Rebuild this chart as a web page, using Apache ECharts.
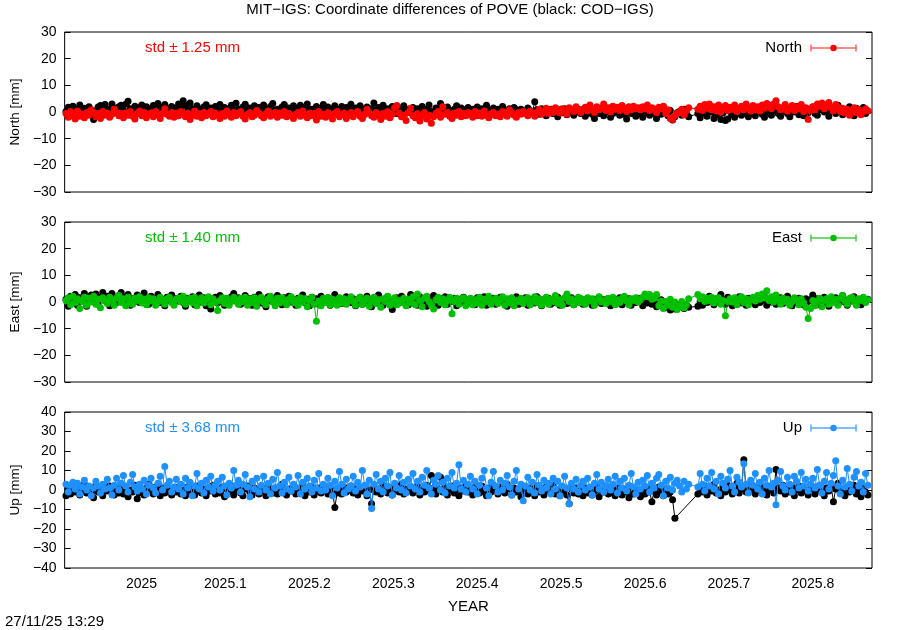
<!DOCTYPE html>
<html><head><meta charset="utf-8">
<script src="https://cdn.jsdelivr.net/npm/echarts@6/dist/echarts.min.js"></script>
<style>html,body{margin:0;padding:0;background:#fff}#c{width:900px;height:630px}</style>
</head><body><div id="c"></div>
<script>
// ---- data (daily solutions, decimal year from start) ----
const startYear = 2024.9100;
const dayStep = 1 / 365.25;
const xTickLabels = ['2025','2025.1','2025.2','2025.3','2025.4','2025.5','2025.6','2025.7','2025.8'];
const N = null;

const northCOD = [
0.2,1.8,0.6,2.2,-0.4,1.0,2.6,0.1,1.4,-0.8,2.0,0.8,-2.8,0.5,1.9,2.4,-0.2,2.8,1.0,0.4,3.0,1.5,-0.1,2.0,2.5,
0.7,2.9,4.0,1.2,0.1,2.2,-0.5,1.6,2.6,0.3,2.0,-0.7,1.1,2.4,0.0,3.2,1.7,0.5,2.8,-0.3,1.3,2.1,0.2,1.5,3.0,
1.6,4.2,2.5,0.8,3.4,1.2,-0.1,2.3,1.0,-0.6,1.9,2.7,0.4,1.5,-0.8,2.1,0.9,2.8,0.2,1.7,-0.4,1.3,2.5,0.6,3.3,
1.0,-0.1,1.9,2.9,0.3,1.5,-0.9,2.3,0.8,1.7,-0.3,2.6,1.2,0.1,2.1,3.2,0.5,1.0,-0.6,1.9,2.8,0.4,1.5,-0.2,2.3,
1.2,-0.3,2.5,0.8,1.7,3.0,0.2,1.0,-0.8,2.1,0.6,1.5,2.8,-0.1,1.9,0.4,1.2,2.3,-0.6,1.0,2.1,0.2,1.7,0.8,2.9,
0.4,1.5,-0.3,2.3,1.0,-0.8,1.9,0.6,1.2,3.4,0.0,1.7,0.8,2.5,-0.3,1.2,0.2,2.1,1.0,-0.6,1.5,0.6,2.3,0.0,1.0,
-0.3,1.7,0.6,1.2,-0.8,2.1,0.4,1.0,2.6,0.2,-0.6,1.5,0.8,3.2,1.2,0.0,1.9,0.6,-0.8,1.0,2.3,0.4,1.5,-0.3,0.8,
1.7,0.2,1.0,-0.6,1.9,0.6,1.2,0.0,2.5,0.8,-0.8,1.5,0.4,1.0,-0.3,2.1,0.6,-1.0,1.2,0.2,1.7,0.8,-0.6,1.0,0.4,
-0.3,1.5,0.6,0.0,3.8,0.8,-0.8,1.2,0.2,-1.4,0.6,1.0,-0.6,0.4,-1.8,0.8,-0.3,1.2,-1.0,0.2,0.6,-1.2,0.0,1.0,-0.6,
0.4,-1.6,-0.3,0.8,-0.8,-2.4,0.2,-0.6,1.0,-1.4,0.0,0.6,-2.0,-0.6,0.4,-0.3,-1.2,0.8,-0.8,-2.6,0.2,-0.6,0.6,-1.6,0.0,
-0.6,-2.0,0.4,-0.3,-1.2,0.8,-0.6,-2.4,0.2,-0.8,2.0,0.0,-1.4,0.6,-3.0,-1.8,-0.3,0.2,-1.2,1.0,-0.6,-1.8,N,N,N,
-0.6,-2.2,0.8,-0.6,-1.6,1.2,0.0,-2.4,-1.0,0.4,-2.8,-0.3,-3.2,-2.6,0.2,-0.8,-2.0,0.6,-0.6,-1.2,1.0,-0.3,-1.8,0.4,-0.6,
-1.4,0.2,1.4,-0.8,-2.0,0.8,-0.3,-1.2,0.6,1.7,-0.6,-1.6,0.4,1.2,-0.6,-1.8,0.8,0.0,2.1,-1.0,0.4,-1.4,1.4,-0.3,0.6,
1.9,-0.6,-1.2,0.8,2.3,0.0,1.2,-1.6,0.4,1.5,-0.6,2.5,0.2,-1.0,1.0,-0.3,2.0,0.6,-1.4,1.4,0.0,0.8,1.7,-0.6,0.4];

const northMIT = [
-0.6,-2.0,0.2,-1.4,-2.6,0.4,-1.6,-0.8,-2.2,-0.2,-1.2,0.8,-0.4,-1.8,-0.6,-2.4,0.2,-1.2,-0.4,-2.0,-0.8,1.0,-0.2,-1.4,-0.6,
-2.2,-0.4,-1.2,0.2,-1.6,-2.6,-0.6,0.4,-1.4,-0.2,-2.2,-0.8,-0.4,-1.8,0.2,-1.2,-2.4,-0.6,1.2,-0.8,-1.6,-0.2,-2.0,-0.4,-1.4,
0.2,-0.8,-1.8,-0.4,-2.8,-1.2,0.4,-1.6,-0.6,-2.2,-0.2,-1.4,-0.8,0.2,-1.8,-0.4,-1.2,-2.4,-0.6,-1.6,0.4,-0.8,-2.0,-0.2,-1.4,
-0.6,0.2,-1.6,-2.6,-0.8,-0.2,-1.8,-1.2,0.6,-0.4,-1.4,-2.2,-0.6,0.4,-1.6,-0.8,-0.2,-2.0,-0.4,-1.2,0.2,-1.8,-0.6,-1.4,-2.4,
-0.8,-0.2,-1.6,0.4,-1.2,-2.2,-0.4,-1.4,-0.6,-3.0,0.2,-1.6,-0.8,-2.0,-0.2,-1.2,-2.6,-0.6,0.2,-1.8,-0.8,-0.4,-2.4,-1.4,-0.2,
-1.8,-0.6,0.2,-1.6,-2.4,-0.8,1.0,-0.4,-1.4,-2.0,-0.2,-1.2,-2.8,-0.6,-1.6,0.2,-2.2,-0.8,1.6,2.4,-0.4,-1.8,-1.2,-3.2,-0.2,
1.4,-1.4,-2.2,-0.6,-3.4,-1.6,-0.2,-2.6,-1.2,-4.2,-1.8,-0.6,0.2,-2.0,2.0,-0.8,-0.2,-1.6,-2.4,-0.4,-1.2,0.2,-1.8,-0.6,-1.4,
-0.2,-0.8,-2.0,0.2,-1.4,-0.4,-1.6,0.4,-1.2,-2.2,-0.6,-0.2,-1.4,-0.8,-1.8,0.2,-0.6,-1.6,0.8,-0.4,-1.2,-2.0,-0.2,-0.8,0.2,
-0.6,-1.4,0.4,-0.4,-1.6,-0.2,1.0,-0.8,0.2,1.4,-0.6,0.8,-0.2,1.6,0.4,-0.4,1.2,0.6,-0.8,1.6,1.0,0.2,2.0,0.8,-0.2,
1.0,1.8,0.4,2.6,1.2,-0.2,2.0,0.8,1.4,3.0,0.6,1.6,0.0,2.2,1.0,1.8,0.6,2.4,1.4,0.2,2.0,0.8,2.2,1.2,1.6,
0.8,2.0,1.2,2.6,0.6,1.6,1.0,-0.2,1.8,1.2,2.2,-0.6,0.8,-2.4,-2.8,-1.4,-0.4,-0.2,1.0,-1.0,0.6,1.6,N,N,N,
1.0,2.2,0.6,2.8,1.4,3.0,0.8,2.0,0.4,2.6,0.0,1.4,2.4,0.6,1.8,1.0,2.6,0.2,1.4,2.2,0.8,3.0,1.6,0.4,2.4,
0.8,2.0,0.4,2.6,1.4,3.2,2.6,1.2,3.0,4.2,2.0,0.8,1.6,2.8,0.4,1.4,2.4,0.6,2.0,1.2,2.8,0.2,1.6,-2.8,0.6,
2.0,0.8,3.0,2.2,3.4,1.2,2.6,3.6,1.6,0.4,2.8,1.8,0.2,1.4,-0.4,1.0,-1.2,0.4,1.6,-0.2,0.8,-1.0,0.2,1.2,0.4];

const eastCOD = [
1.0,-1.6,2.2,0.0,2.8,-1.2,1.6,0.4,3.2,-1.6,1.2,2.6,0.2,3.0,-0.8,1.8,3.6,0.6,2.2,-1.4,3.2,1.4,-0.2,2.4,3.6,
0.4,2.0,2.8,-1.2,1.2,0.4,2.6,-0.2,1.6,3.4,0.8,-0.8,2.2,0.2,1.4,2.8,-0.2,1.0,-1.4,1.8,0.6,2.6,-0.4,1.2,0.4,
2.2,-0.2,-1.6,1.4,0.4,2.0,-1.0,0.8,2.6,0.0,1.6,-1.4,1.0,-2.6,0.4,1.8,-0.4,2.4,0.6,-1.2,1.2,0.0,2.0,3.2,0.4,
1.6,-0.8,0.8,2.4,0.2,1.2,-1.2,1.8,0.6,2.8,-0.4,1.0,-1.8,2.0,0.4,1.4,-0.6,2.4,0.6,-1.0,1.6,0.8,2.2,0.0,1.0,
-1.2,1.4,0.4,2.6,-0.2,1.0,-1.4,1.8,0.4,1.2,-0.8,2.2,0.6,-0.2,1.6,-1.2,0.8,2.8,0.2,1.4,-0.6,0.6,2.0,1.0,-0.2,
1.2,-1.4,0.4,1.8,-0.8,0.8,2.2,0.0,-1.8,1.4,0.6,2.6,-0.2,-1.2,1.0,2.0,0.4,-2.8,0.6,1.6,-0.4,2.2,0.2,0.8,-1.0,
2.8,0.6,1.4,-1.2,2.0,0.0,1.0,-1.6,1.6,0.4,2.4,-0.2,-1.2,1.2,0.6,2.0,-0.8,0.8,0.2,1.4,-1.4,1.0,0.0,1.8,0.6,
-0.4,1.2,0.4,-1.0,1.6,0.6,-0.2,2.0,-1.2,0.8,0.2,1.4,-0.8,0.6,1.8,0.0,1.0,-1.6,0.4,1.2,-0.2,2.0,-0.8,0.6,0.2,
1.6,-1.2,0.6,1.0,-0.4,2.0,0.0,-1.4,0.8,0.2,1.4,-0.8,0.6,-0.2,1.8,-1.2,0.4,1.2,-0.6,0.6,1.6,-1.0,0.8,0.0,1.2,
-0.8,0.6,1.4,0.0,-1.2,1.0,0.2,1.8,-0.6,0.8,-0.2,1.2,-1.4,0.4,1.0,-0.4,1.6,-1.0,0.6,0.0,1.2,-1.2,0.8,-0.2,1.4,
0.2,-1.4,1.0,-0.4,1.2,-0.8,0.4,-1.8,0.0,0.8,-1.2,-2.2,-0.2,-3.0,-1.6,-2.6,-1.2,-1.8,-0.6,-2.4,-1.0,-2.0,N,N,N,
-1.6,0.2,-1.2,1.4,-0.2,2.2,0.6,-1.0,1.2,0.0,2.8,0.8,-0.8,1.8,0.4,-1.4,1.0,0.0,2.0,-0.4,0.8,-1.2,1.4,0.2,0.8,
-1.0,1.2,-0.2,0.6,1.8,-1.2,0.8,0.0,1.4,-0.8,0.4,1.6,-0.6,0.6,2.2,0.2,-1.4,1.0,-0.2,1.4,0.6,-1.0,1.2,0.2,0.8,
2.6,0.4,1.2,-1.0,0.6,1.8,-0.2,-1.6,1.0,0.2,1.6,-0.8,0.6,2.4,0.0,-1.2,1.2,0.4,2.0,-0.6,0.8,-1.0,1.4,0.2,1.0];

const eastMIT = [
0.6,1.6,-1.0,2.2,-0.2,1.2,-2.4,0.4,1.8,-1.2,1.4,0.0,2.2,-0.8,1.0,-2.2,1.6,0.4,-0.6,1.8,0.6,-1.2,1.4,2.4,-0.2,
1.2,-1.4,1.8,0.2,-0.8,1.4,0.6,2.0,-0.4,1.0,-1.0,1.6,0.4,1.2,-1.2,0.0,1.8,0.6,-0.8,1.2,1.8,-0.2,-1.2,1.0,1.4,
0.2,2.2,-0.8,0.8,1.4,-0.2,1.8,-1.4,0.4,1.6,-0.4,1.0,2.0,-1.0,1.2,0.0,-3.2,0.6,1.6,-0.6,1.4,-1.2,0.2,1.8,0.6,
-0.8,1.4,0.2,1.8,-1.2,1.0,-0.2,1.6,-1.6,0.6,1.8,0.0,-1.0,1.2,2.2,0.2,-1.4,1.4,-0.4,1.6,0.6,-1.0,1.0,2.0,-0.2,
0.8,-1.2,1.6,0.0,1.2,-1.8,0.6,1.8,-0.8,-7.2,0.4,-1.4,1.4,-0.2,1.6,-1.0,1.0,0.4,-1.2,1.6,-0.4,1.2,-0.8,0.6,2.0,
0.2,-1.2,1.0,1.8,-0.8,0.6,1.4,-1.6,0.4,1.8,-0.6,0.8,-2.0,1.2,0.2,2.2,-1.2,0.6,1.6,-1.0,0.6,-0.2,1.4,-1.4,1.0,
-0.2,2.0,-1.0,3.0,0.6,-1.8,1.4,2.2,0.2,-1.2,-2.6,0.8,1.8,-0.2,1.2,-1.0,0.6,1.8,-4.4,0.2,1.4,-0.8,0.8,1.6,-1.4,
0.4,1.4,-1.0,0.8,-0.4,1.8,-1.2,1.0,0.2,2.2,-0.8,0.6,1.4,-0.6,0.8,2.0,-1.2,1.2,-0.2,1.6,-1.4,0.6,0.2,1.4,-0.6,
0.8,1.6,-1.0,0.4,2.0,-0.2,1.2,-1.2,0.6,1.8,-0.8,1.0,0.2,2.4,-0.6,0.8,-1.2,1.6,3.0,0.2,1.2,-1.0,0.6,1.8,-0.2,
1.0,-0.8,1.6,0.4,1.2,-1.2,0.8,2.0,0.0,0.6,-0.6,1.4,0.2,1.8,-1.0,0.8,-0.2,1.4,2.2,0.4,-1.0,1.2,0.6,1.6,0.0,
0.8,1.8,3.0,2.0,2.8,1.0,1.4,2.8,-1.4,0.4,-2.4,0.2,-1.2,1.0,-2.0,0.0,-2.8,-1.6,0.2,-2.2,-1.0,1.2,N,N,N,
2.8,1.2,2.0,0.2,1.4,0.6,1.8,-0.4,0.8,1.6,-0.8,0.6,-5.2,0.2,1.2,0.0,1.6,-1.0,0.8,2.0,-0.2,1.2,-1.0,0.8,1.8,
0.4,2.4,1.0,3.0,1.6,4.2,0.6,2.0,0.0,2.6,1.0,-0.8,1.4,0.2,1.0,-1.2,0.2,1.6,0.8,-1.0,1.2,-0.2,-2.0,-6.2,-2.4,
0.6,-1.4,0.2,1.4,-1.8,0.6,1.2,-0.8,2.0,-0.2,1.0,-1.2,1.4,2.4,0.4,-0.8,1.2,1.8,0.2,-1.2,1.2,0.6,1.8,-0.2,0.8];

const upCOD = [
-3.0,0.5,-2.0,1.5,-1.0,2.0,-2.5,0.0,3.0,-1.5,1.0,-0.5,-4.0,2.5,-1.0,0.5,-3.0,1.5,-0.5,2.0,0.0,-2.5,1.0,-1.5,0.5,
-2.0,1.5,-3.5,0.0,-1.0,2.5,-4.5,-1.5,0.5,-2.5,1.0,3.0,-0.5,-2.0,1.5,0.0,-3.0,1.0,-1.5,2.0,-0.5,-2.5,0.5,-1.0,1.5,
-2.0,0.0,-3.0,1.5,-1.0,0.5,-2.5,2.0,-0.5,-1.5,0.5,-3.0,1.0,-0.5,2.5,-2.0,0.0,-1.5,1.5,-3.5,0.5,-1.0,2.0,-2.5,0.0,
1.0,-1.5,-3.0,0.5,2.0,-1.0,-2.5,1.0,0.0,-2.0,1.5,-0.5,-3.0,2.5,0.0,-1.5,1.0,-2.0,0.5,3.0,-1.0,-2.5,0.5,-0.5,1.5,
-2.0,0.0,-1.5,2.0,-3.0,0.5,-1.0,1.5,-2.5,-0.5,1.0,-1.5,2.5,0.0,-2.0,1.0,-0.5,-9.0,-1.5,0.5,-2.0,1.5,-1.0,0.0,2.0,
-1.5,0.5,-2.5,1.0,-0.5,2.0,-3.0,0.0,-7.0,1.5,-1.0,0.5,-2.0,2.5,-0.5,-1.5,1.0,-2.5,0.0,1.5,-1.0,3.0,-2.0,0.5,-0.5,
1.5,-1.5,0.0,2.0,-2.5,0.5,-1.0,2.5,-0.5,7.5,1.0,-2.0,0.5,6.5,-1.0,1.5,-2.5,0.0,2.0,-1.5,0.5,-3.0,1.0,-0.5,2.0,
-1.0,0.5,-2.5,1.5,0.0,-1.5,2.0,-0.5,-3.0,1.0,-1.0,2.5,0.0,-2.0,1.5,-0.5,-1.5,3.0,0.5,-2.5,1.0,-1.0,0.0,-3.5,1.5,
-0.5,-2.0,1.0,0.0,-3.0,2.0,-1.0,0.5,-2.5,1.5,-0.5,-1.5,2.5,-2.0,0.0,-3.0,1.0,-1.0,-2.5,-7.0,0.5,-1.5,1.0,-2.0,0.0,
-3.0,1.0,-1.5,0.5,-2.5,-0.5,1.5,-3.5,0.0,-1.0,2.0,-2.0,0.5,-1.5,-3.0,1.0,-0.5,-2.5,0.5,-1.0,-4.0,1.5,-2.0,0.0,-1.5,
-3.5,0.5,-2.0,1.0,-1.0,-6.0,0.0,-2.5,1.5,-1.5,-3.0,0.5,-2.0,-1.0,-5.0,-14.5,N,N,N,N,N,N,N,N,N,
-2.0,0.5,-1.0,2.0,-2.5,1.0,-0.5,3.0,-1.5,0.0,-3.0,1.5,-1.0,2.5,0.0,-2.0,1.0,3.5,-1.5,0.5,15.5,-1.0,2.0,-0.5,1.0,
-2.0,0.5,3.0,-1.0,1.5,-2.5,0.0,2.0,-1.5,10.5,1.0,-0.5,2.5,-2.0,0.5,-1.0,1.5,-3.0,0.0,2.0,-1.5,1.0,-0.5,-2.5,0.5,
1.5,-2.0,0.0,2.5,-1.0,-3.0,1.0,-0.5,2.0,-6.0,0.5,3.5,-1.5,0.0,-3.0,1.5,-1.0,0.5,2.5,-2.0,0.0,-3.5,1.0,-1.0,-2.5];

const upMIT = [
3.0,-1.0,2.5,4.0,0.5,3.5,-2.0,1.5,5.0,0.0,2.0,-3.0,1.0,4.5,2.0,-1.5,3.0,0.5,5.5,1.0,-2.5,2.5,6.0,0.0,3.5,
7.5,2.0,-1.0,4.0,8.0,1.5,-0.5,3.0,0.5,5.0,-2.0,2.5,6.0,1.0,-1.5,3.5,7.0,0.0,12.0,2.5,4.5,-1.0,1.5,5.5,0.5,
3.0,-2.0,6.0,1.0,4.0,-3.0,2.0,8.5,0.5,3.5,-1.5,5.0,1.5,7.0,-0.5,2.5,4.5,0.0,6.5,2.0,-2.5,3.5,1.0,10.0,2.5,
5.0,-1.0,3.0,8.0,1.5,-3.5,4.5,0.5,6.0,-1.0,2.5,7.0,0.0,3.5,-2.0,5.5,1.0,9.0,2.0,-1.5,4.0,0.5,6.5,-0.5,3.0,
1.5,7.5,-2.0,4.0,0.5,6.0,2.0,-1.0,5.0,1.0,8.5,-0.5,3.0,0.0,6.0,2.5,-3.0,4.5,1.0,9.5,3.0,-1.5,5.5,0.5,2.0,
7.0,-0.5,4.0,1.5,10.0,2.5,-2.0,5.0,-9.5,3.0,8.0,0.5,4.5,-1.0,6.0,2.0,9.0,-2.5,3.5,1.0,7.5,0.0,4.0,-1.5,5.5,
2.0,8.5,0.5,4.5,-1.0,6.5,2.5,10.0,1.0,-2.0,5.0,3.0,7.5,0.0,4.0,-1.5,6.0,2.0,9.0,1.0,3.5,13.0,0.5,5.0,-1.0,
3.0,7.0,0.5,4.5,-2.0,2.5,6.0,10.0,1.0,-3.0,4.0,9.5,2.0,-1.0,5.0,0.0,3.5,7.5,1.5,-2.5,4.5,10.0,0.5,3.0,-5.5,
2.0,6.5,0.0,4.0,-1.5,8.0,2.5,-0.5,5.0,1.0,3.5,-2.0,6.0,0.5,4.5,-3.0,2.0,7.0,1.0,-7.0,3.5,0.5,5.5,-1.0,2.5,
4.5,0.0,6.0,1.5,-2.5,3.5,8.0,0.5,4.0,-1.0,2.0,5.5,0.0,3.0,7.0,-1.5,4.5,1.0,6.0,-0.5,2.5,8.5,1.5,-2.0,4.0,
0.5,5.0,2.0,7.5,-1.0,3.5,1.0,6.0,8.0,2.5,-3.0,4.5,1.0,6.5,0.0,3.5,5.0,2.0,-1.0,4.5,0.5,3.0,N,N,N,
1.5,8.5,3.0,-0.5,6.0,2.0,9.0,0.5,4.5,-2.0,7.0,3.5,1.0,5.5,10.0,2.0,-1.0,6.5,4.0,1.5,13.5,3.0,-1.5,5.0,2.5,
8.5,0.5,4.0,-2.0,6.0,2.5,10.0,1.5,3.5,-7.5,5.0,9.5,2.0,0.0,6.5,3.0,-1.0,7.0,4.5,1.0,9.0,2.0,5.5,-0.5,3.0,
6.0,1.0,10.5,2.5,-1.5,4.5,9.0,0.5,3.5,7.5,15.0,2.0,-2.0,5.0,1.5,11.0,3.0,-0.5,6.5,9.5,2.0,4.0,-1.0,8.5,2.5];

const panels = [
  {name:'North', axis:'North [mm]', std:'std \u00b1 1.25 mm', color:'#ff0000', legendColor:'#ff6060', cod:northCOD, mit:northMIT, min:-30, max:30, step:10},
  {name:'East',  axis:'East [mm]',  std:'std \u00b1 1.40 mm', color:'#00c000', legendColor:'#40d040', cod:eastCOD,  mit:eastMIT,  min:-30, max:30, step:10},
  {name:'Up',    axis:'Up [mm]',    std:'std \u00b1 3.68 mm', color:'#1e90ff', legendColor:'#50a8ff', cod:upCOD,    mit:upMIT,    min:-40, max:40, step:10}
];

// ---- layout ----
const L = 63, W = 809;
const gridPos = [{top:32,height:160},{top:222,height:160},{top:412,height:156}];
const XMIN = 2024.9084, XMAX = 2025.8704;
const FONT = 'Liberation Sans, Arial, sans-serif';
const xTickVals = xTickLabels.map(Number);
const minus = s => String(s).replace('-', '\u2212');

function toPairs(arr){
  const out = [];
  arr.forEach((v,i)=>{ if(v!==null) out.push([startYear + i*dayStep, v]); });
  return out;
}

const chart = echarts.init(document.getElementById('c'), null, {renderer:'canvas'});
const grid=[], xAxis=[], yAxis=[], series=[], graphic=[];
panels.forEach((p,k)=>{
  grid.push({left:L, width:W, top:gridPos[k].top, height:gridPos[k].height, show:true, borderColor:'#000', borderWidth:1, backgroundColor:'transparent'});
  xAxis.push({gridIndex:k, type:'value', min:XMIN, max:XMAX,
    axisLine:{show:false}, splitLine:{show:false},
    axisTick:{show:k===2, inside:true, length:6, customValues:xTickVals, lineStyle:{color:'#000'}},
    axisLabel:{show:k===2, customValues:xTickVals, color:'#000', fontFamily:FONT, fontSize:14, margin:9,
      formatter:v=>xTickLabels[xTickVals.findIndex(t=>Math.abs(t-v)<1e-6)] || ''},
    name:k===2?'YEAR':'', nameLocation:'middle', nameGap:31, nameTextStyle:{color:'#000', fontFamily:FONT, fontSize:15}
  });
  yAxis.push({gridIndex:k, type:'value', min:p.min, max:p.max, interval:p.step, position:'left',
    axisLine:{show:false}, splitLine:{show:false},
    axisTick:{show:true, inside:true, length:6, lineStyle:{color:'#000'}},
    axisLabel:{color:'#000', fontFamily:FONT, fontSize:14, margin:8, formatter:v=>minus(v)},
    name:p.axis, nameLocation:'middle', nameGap:42, nameRotate:90,
    nameTextStyle:{color:'#000', fontFamily:FONT, fontSize:13.5}
  });
  yAxis.push({gridIndex:k, type:'value', min:p.min, max:p.max, interval:p.step, position:'right',
    axisLine:{show:false}, splitLine:{show:false},
    axisTick:{show:true, inside:true, length:6, lineStyle:{color:'#000'}},
    axisLabel:{show:false}
  });
  series.push({type:'line', xAxisIndex:k, yAxisIndex:2*k, data:toPairs(p.cod), symbol:'circle', symbolSize:7,
    itemStyle:{color:'#000'}, lineStyle:{color:'#000', width:1}, clip:true, z:2});
  series.push({type:'line', xAxisIndex:k, yAxisIndex:2*k, data:toPairs(p.mit), symbol:'circle', symbolSize:7,
    itemStyle:{color:p.color}, lineStyle:{color:p.color, width:1}, clip:true, z:3});

  const ly = gridPos[k].top + 16;
  graphic.push({type:'text', left:145, top:ly-8, style:{text:p.std, fill:p.color, font:'15px '+FONT}});
  graphic.push({type:'text', right:900-802, top:ly-8, style:{text:p.name, fill:'#000', font:'15px '+FONT}});
  graphic.push({type:'line', shape:{x1:811,y1:ly,x2:856,y2:ly}, style:{stroke:p.legendColor, lineWidth:1.5}});
  graphic.push({type:'line', shape:{x1:811,y1:ly-3.5,x2:811,y2:ly+3.5}, style:{stroke:p.legendColor, lineWidth:1.5}});
  graphic.push({type:'line', shape:{x1:856,y1:ly-3.5,x2:856,y2:ly+3.5}, style:{stroke:p.legendColor, lineWidth:1.5}});
  graphic.push({type:'circle', shape:{cx:833.5,cy:ly,r:3.2}, style:{fill:p.color}});
});
graphic.push({type:'text', left:'center', top:2, style:{text:'MIT\u2212IGS: Coordinate differences of POVE (black: COD\u2212IGS)', fill:'#000', font:'15px '+FONT}});
graphic.push({type:'text', left:5, top:614, style:{text:'27/11/25 13:29', fill:'#000', font:'15px '+FONT}});

chart.setOption({animation:false, backgroundColor:'#fff', grid, xAxis, yAxis, series, graphic});
</script></body></html>
